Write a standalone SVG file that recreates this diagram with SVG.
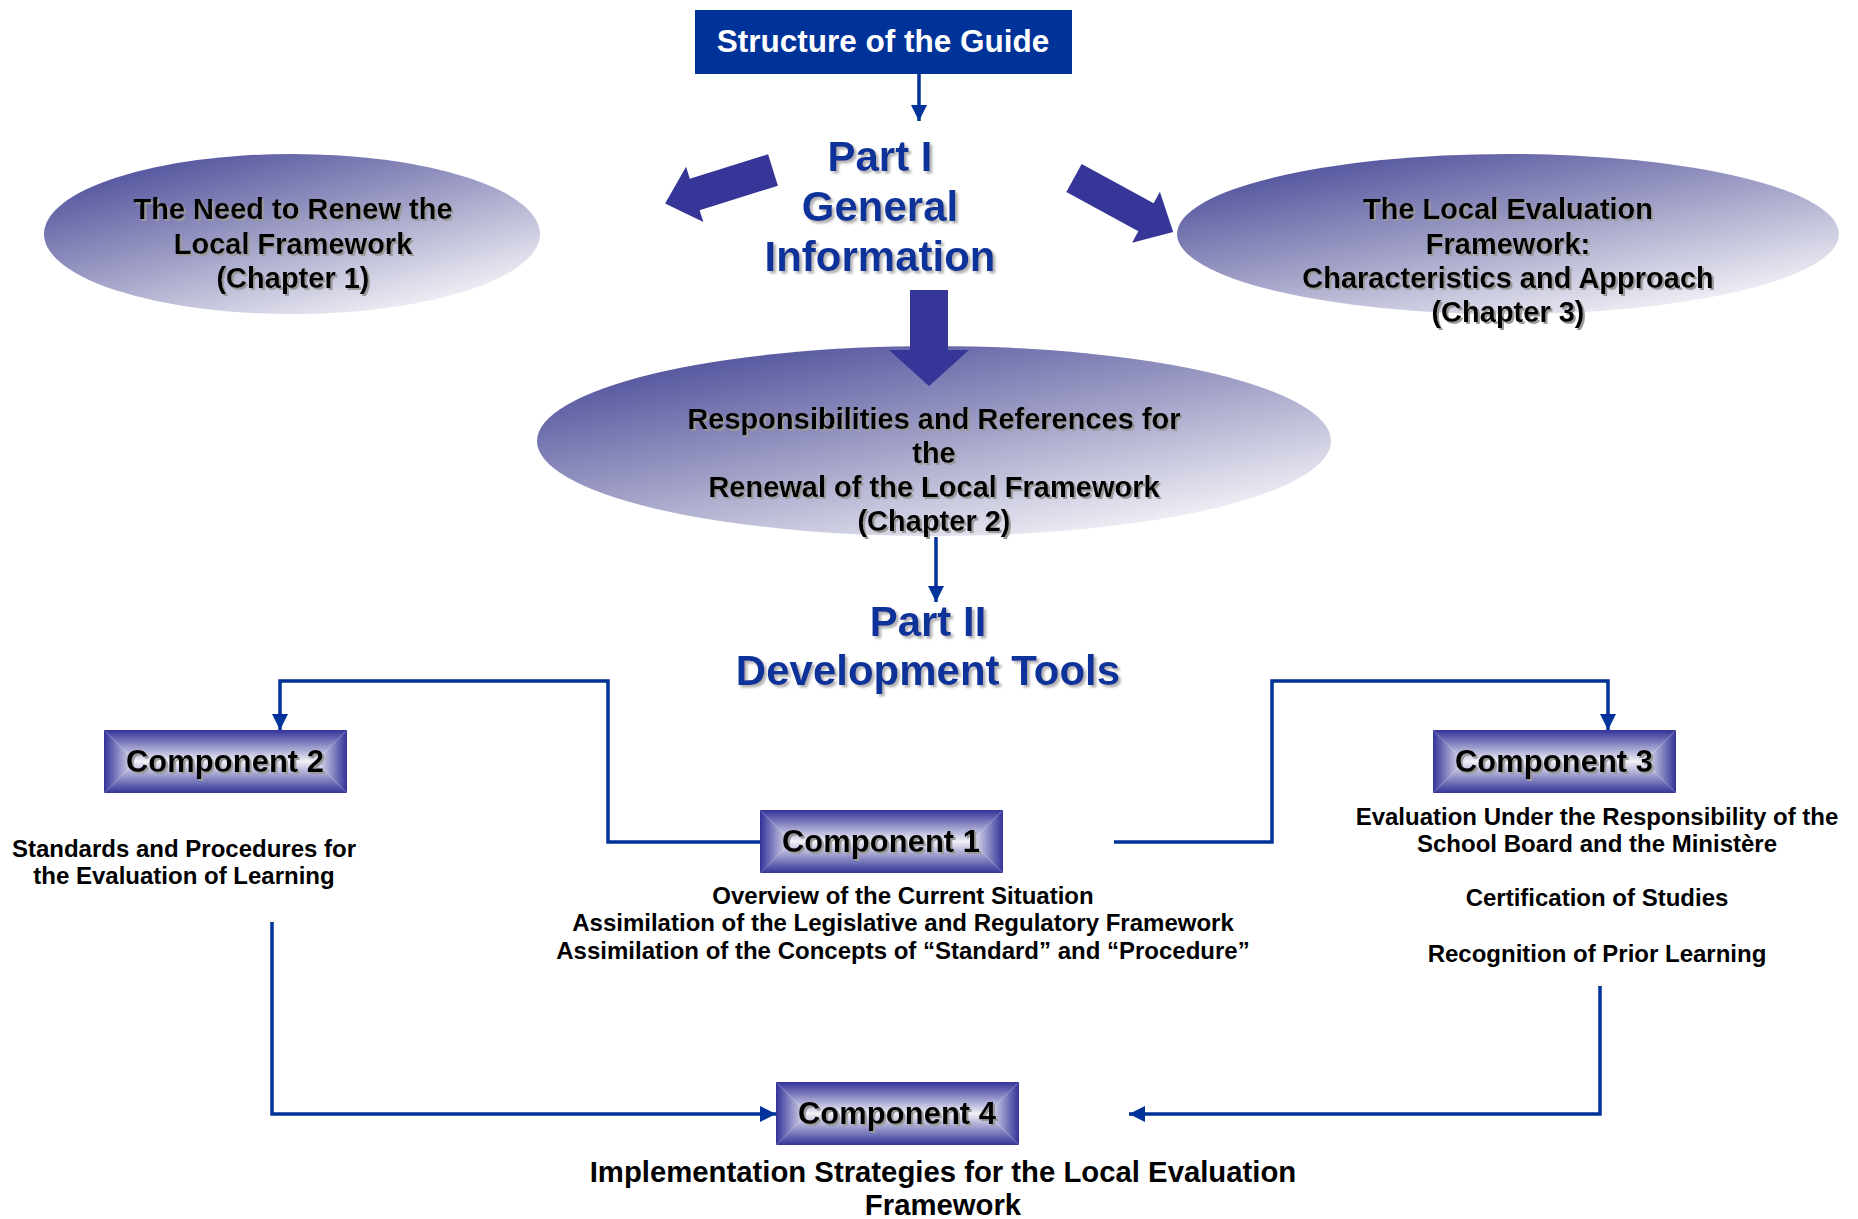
<svg xmlns="http://www.w3.org/2000/svg" width="1858" height="1219" viewBox="0 0 1858 1219">
<defs>
<linearGradient id="ellG" x1="0.15" y1="0.05" x2="0.85" y2="0.95">
<stop offset="0" stop-color="#4f4f9c"/>
<stop offset="0.5" stop-color="#a2a2c8"/>
<stop offset="1" stop-color="#f7f7fa"/>
</linearGradient>
<linearGradient id="gT" x1="0" y1="0" x2="0" y2="1"><stop offset="0" stop-color="#333399"/><stop offset="1" stop-color="#f0f0f6"/></linearGradient>
<linearGradient id="gB" x1="0" y1="1" x2="0" y2="0"><stop offset="0" stop-color="#333399"/><stop offset="1" stop-color="#f0f0f6"/></linearGradient>
<linearGradient id="gL" x1="0" y1="0" x2="1" y2="0"><stop offset="0" stop-color="#333399"/><stop offset="1" stop-color="#f0f0f6"/></linearGradient>
<linearGradient id="gR" x1="1" y1="0" x2="0" y2="0"><stop offset="0" stop-color="#333399"/><stop offset="1" stop-color="#f0f0f6"/></linearGradient>
<g id="compBox">
<polygon points="0,0 243,0 211.5,31.5 31.5,31.5" fill="url(#gT)"/>
<polygon points="0,63 243,63 211.5,31.5 31.5,31.5" fill="url(#gB)"/>
<polygon points="0,0 31.5,31.5 0,63" fill="url(#gL)"/>
<polygon points="243,0 211.5,31.5 243,63" fill="url(#gR)"/>
</g>
<filter id="sh" x="-5%" y="-20%" width="110%" height="140%">
<feDropShadow dx="2" dy="2" stdDeviation="0.6" flood-color="#9a9a9a" flood-opacity="1"/>
</filter>
<filter id="shB" x="-5%" y="-20%" width="110%" height="140%">
<feDropShadow dx="2.5" dy="2.5" stdDeviation="0.8" flood-color="#b0b0b0" flood-opacity="1"/>
</filter>
<marker id="ah" viewBox="0 0 16 16" refX="16" refY="8" markerWidth="16" markerHeight="16" markerUnits="userSpaceOnUse" orient="auto">
<path d="M0,0 L16,8 L0,16 Z" fill="#003399"/>
</marker>
</defs>
<style>
text{font-family:"Liberation Sans",Arial,sans-serif;font-weight:bold;text-anchor:middle}
.ell{fill:url(#ellG)}
.et{font-size:29px;fill:#000;filter:url(#sh)}
.part{font-size:42px;fill:#0a3399;filter:url(#shB)}
.ct{font-size:31px;fill:#000;filter:url(#sh)}
.desc{font-size:24px;fill:#000}
.big{font-size:29.3px;fill:#000}
.line{fill:none;stroke:#003399;stroke-width:3.5}
.blk{fill:#363698}
</style>
<g id="title">
<rect x="695" y="10" width="377" height="64" fill="#003399"/>
<text x="883" y="52" font-size="31.5" fill="#fff">Structure of the Guide</text>
</g>
<g id="part1">
<text class="part" x="880" y="171">Part I</text>
<text class="part" x="880" y="221">General</text>
<text class="part" x="880" y="271">Information</text>
</g>
<g id="chapter1">
<ellipse class="ell" cx="292" cy="234" rx="248" ry="80"/>
<text class="et" x="293" y="219">The Need to Renew the</text>
<text class="et" x="293" y="254">Local Framework</text>
<text class="et" x="293" y="288">(Chapter 1)</text>
</g>
<g id="chapter3">
<ellipse class="ell" cx="1508" cy="234" rx="331" ry="80"/>
<text class="et" x="1508" y="219">The Local Evaluation</text>
<text class="et" x="1508" y="254">Framework:</text>
<text class="et" x="1508" y="288">Characteristics and Approach</text>
<text class="et" x="1508" y="322">(Chapter 3)</text>
</g>
<g id="chapter2">
<ellipse class="ell" cx="934" cy="441" rx="397" ry="95"/>
<text class="et" x="934" y="429">Responsibilities and References for</text>
<text class="et" x="934" y="463">the</text>
<text class="et" x="934" y="497">Renewal of the Local Framework</text>
<text class="et" x="934" y="531">(Chapter 2)</text>
</g>
<g id="part2">
<text class="part" x="928" y="636">Part II</text>
<text class="part" x="928" y="685">Development Tools</text>
</g>
<g id="component2">
<use href="#compBox" x="104" y="730"/>
<text class="ct" x="225" y="772">Component 2</text>
<text class="desc" x="184" y="857">Standards and Procedures for</text>
<text class="desc" x="184" y="884">the Evaluation of Learning</text>
</g>
<g id="component1">
<use href="#compBox" x="760" y="810"/>
<text class="ct" x="881" y="852">Component 1</text>
<text class="desc" x="903" y="904">Overview of the Current Situation</text>
<text class="desc" x="903" y="931">Assimilation of the Legislative and Regulatory Framework</text>
<text class="desc" x="903" y="959">Assimilation of the Concepts of “Standard” and “Procedure”</text>
</g>
<g id="component3">
<use href="#compBox" x="1433" y="730"/>
<text class="ct" x="1554" y="772">Component 3</text>
<text class="desc" x="1597" y="825">Evaluation Under the Responsibility of the</text>
<text class="desc" x="1597" y="852">School Board and the Ministère</text>
<text class="desc" x="1597" y="906">Certification of Studies</text>
<text class="desc" x="1597" y="962">Recognition of Prior Learning</text>
</g>
<g id="component4">
<use href="#compBox" x="776" y="1082"/>
<text class="ct" x="897" y="1124">Component 4</text>
<text class="big" x="943" y="1182">Implementation Strategies for the Local Evaluation</text>
<text class="big" x="943" y="1215">Framework</text>
</g>
<g id="connectors">
<line class="line" x1="919" y1="74" x2="919" y2="121" marker-end="url(#ah)"/>
<line class="line" x1="936" y1="537" x2="936" y2="602" marker-end="url(#ah)"/>
<polyline class="line" points="760,842 608,842 608,681 280,681 280,730" marker-end="url(#ah)"/>
<polyline class="line" points="1114,842 1272,842 1272,681 1608,681 1608,730" marker-end="url(#ah)"/>
<polyline class="line" points="272,922 272,1114 776,1114" marker-end="url(#ah)"/>
<polyline class="line" points="1600,986 1600,1114 1129,1114" marker-end="url(#ah)"/>
<polygon class="blk" transform="translate(773,170) rotate(162.7)" points="0,-16.5 82,-16.5 82,-29 113,0 82,29 82,16.5 0,16.5"/>
<polygon class="blk" transform="translate(1074,178) rotate(28.6)" points="0,-16 82,-16 82,-29 113,0 82,29 82,16 0,16"/>
<polygon class="blk" points="910,290 948,290 948,350 969,350 929,386 889,350 910,350"/>
</g>
</svg>
